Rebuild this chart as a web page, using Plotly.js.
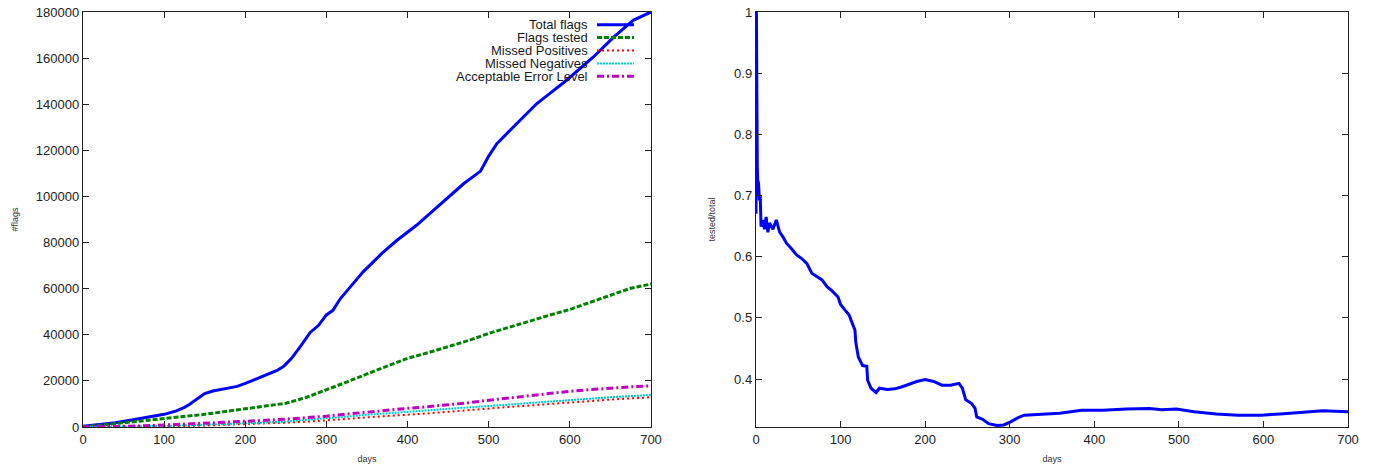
<!DOCTYPE html>
<html>
<head>
<meta charset="utf-8">
<script src="https://cdn.plot.ly/plotly-3.0.1.min.js"></script>
<style>
  html, body { margin: 0; padding: 0; background: #fff; }
  #chart { width: 1377px; height: 466px; }
</style>
</head>
<body>
<div id="chart"></div>
<script>
// ---------- Data ----------
const seriesNames = ["Total flags", "Flags tested", "Missed Positives", "Missed Negatives", "Acceptable Error Level"];

const totalDays  = [0, 20, 40, 60, 80, 100, 115, 125, 131, 140, 150, 160, 175, 190, 200, 215, 230, 240, 248, 257, 268, 280, 290, 300, 308, 317, 330, 345, 368, 387, 411, 436, 450, 469, 490, 500, 510, 539, 559, 575, 596, 629, 654, 678, 700];
const totalFlags = [300, 1000, 1800, 3000, 4300, 5500, 7000, 8500, 9800, 12000, 14500, 15600, 16600, 17600, 18900, 21000, 23000, 24700, 26500, 29800, 35000, 41000, 44000, 48600, 50600, 55600, 61000, 67200, 75200, 81000, 87500, 95400, 99500, 105500, 111000, 117500, 122900, 133000, 140200, 144600, 150400, 160500, 169100, 176400, 180000];

const days = [0, 25, 50, 75, 100, 125, 150, 175, 200, 225, 250, 275, 300, 325, 350, 375, 400, 425, 450, 475, 500, 525, 550, 575, 600, 625, 650, 675, 700];
const flagsTested     = [0, 900, 1800, 2700, 3500, 4500, 5500, 6700, 7900, 9000, 10300, 12800, 16000, 19500, 23000, 26500, 29800, 32200, 34700, 37500, 40600, 43300, 45800, 48500, 51000, 54000, 57000, 60200, 62000];
const missedPositives = [0, 30, 100, 200, 300, 450, 650, 900, 1200, 1500, 1900, 2300, 2800, 3500, 4200, 4700, 5300, 5900, 6600, 7400, 8100, 8700, 9300, 10000, 10700, 11300, 11900, 12400, 12900];
const missedNegatives = [0, 50, 150, 300, 500, 700, 950, 1200, 1500, 1900, 2400, 3000, 3700, 4500, 5300, 6000, 6600, 7300, 7900, 8500, 9100, 9800, 10400, 11000, 11700, 12300, 12900, 13400, 13900];
const acceptableError = [0, 100, 250, 500, 850, 1200, 1600, 2000, 2400, 2900, 3400, 4000, 4700, 5600, 6500, 7300, 8100, 8800, 9600, 10500, 11600, 12600, 13500, 14500, 15500, 16200, 16900, 17400, 17900];

const ratioDays = [0, 0.5, 1, 1.5, 2, 3, 4, 5, 6, 8, 10, 12, 14, 16, 20, 24, 28, 32, 36, 42, 48, 54, 60, 66, 72, 78, 84, 90, 97, 100, 105, 110, 113, 117, 118, 121, 126, 131, 132, 136, 142, 146, 155, 164, 172, 180, 190, 200, 210, 220, 230, 240, 244, 248, 255, 259, 261, 268, 275, 285, 293, 301, 310, 317, 340, 359, 385, 410, 438, 465, 480, 497, 518, 544, 570, 597, 620, 650, 670, 700];
const ratio     = [0.67, 1.0, 0.87, 0.75, 0.725, 0.72, 0.692, 0.70, 0.649, 0.66, 0.645, 0.665, 0.64, 0.655, 0.645, 0.66, 0.64, 0.632, 0.622, 0.613, 0.603, 0.597, 0.589, 0.573, 0.567, 0.562, 0.551, 0.544, 0.534, 0.522, 0.513, 0.505, 0.494, 0.48, 0.46, 0.436, 0.422, 0.421, 0.398, 0.385, 0.378, 0.385, 0.383, 0.384, 0.387, 0.391, 0.396, 0.399, 0.396, 0.39, 0.39, 0.393, 0.385, 0.366, 0.36, 0.352, 0.338, 0.334, 0.327, 0.324, 0.325, 0.330, 0.337, 0.341, 0.342, 0.344, 0.349, 0.349, 0.351, 0.352, 0.35, 0.351, 0.3466, 0.3428, 0.341, 0.341, 0.343, 0.3466, 0.348, 0.3466];

const xTicks = [0, 100, 200, 300, 400, 500, 600, 700];
const leftYTicks = [0, 20000, 40000, 60000, 80000, 100000, 120000, 140000, 160000, 180000];
const rightYTicks = [0.4, 0.5, 0.6, 0.7, 0.8, 0.9, 1];
const rightYTickText = ["0.4", "0.5", "0.6", "0.7", "0.8", "0.9", "1"];

// ---------- Styles ----------
const styles = [
  {color: "#0000ff", width: 3, dash: "solid"},
  {color: "#008000", width: 3, dash: "5px,2px"},
  {color: "#ff0000", width: 2, dash: "2px,3px"},
  {color: "#00cccc", width: 2, dash: "2px,1px"},
  {color: "#c000c0", width: 3, dash: "7px,3px,2px,3px"}
];

const leftY = [totalFlags, flagsTested, missedPositives, missedNegatives, acceptableError];
const leftX = [totalDays, days, days, days, days];

const traces = [];
for (let i = 0; i < 5; i++) {
  traces.push({
    x: leftX[i], y: leftY[i], type: "scatter", mode: "lines",
    name: seriesNames[i], xaxis: "x", yaxis: "y", showlegend: false,
    line: {color: styles[i].color, width: styles[i].width, dash: styles[i].dash}
  });
}
traces.push({
  x: ratioDays, y: ratio, type: "scatter", mode: "lines", name: "tested/total",
  xaxis: "x2", yaxis: "y2", showlegend: false,
  line: {color: "#0000ff", width: 3}
});

// ---------- Layout ----------
const L = 83, R = 29, T = 12, B = 39;
const W = 1377, H = 466;
const pw = W - L - R, ph = H - T - B;
const px = v => (v - L) / pw;
const py = v => (H - B - v) / ph;

const tickFont = {family: "Liberation Sans, Arial, sans-serif", size: 13, color: "#222"};
const titleFont = {family: "Liberation Sans, Arial, sans-serif", size: 9, color: "#333"};

function axisCommon() {
  return {
    showgrid: false, zeroline: false, showline: true, linecolor: "#222", linewidth: 1.2,
    mirror: "allticks", ticks: "inside", ticklen: 6, tickwidth: 1, tickcolor: "#222",
    tickfont: tickFont
  };
}

const layout = {
  width: W, height: H,
  margin: {l: L, r: R, t: T, b: B},
  paper_bgcolor: "#fff", plot_bgcolor: "#fff",
  xaxis: Object.assign(axisCommon(), {
    domain: [0, px(651)], range: [0, 700], tickvals: xTicks, anchor: "y",
    title: {text: "days", font: titleFont, standoff: 10}
  }),
  yaxis: Object.assign(axisCommon(), {
    domain: [0, 1], range: [0, 180000], tickvals: leftYTicks, tickformat: "d", anchor: "x",
    title: {text: "#flags", font: titleFont, standoff: 15}
  }),
  xaxis2: Object.assign(axisCommon(), {
    domain: [px(756), 1], range: [0, 700], tickvals: xTicks, anchor: "y2",
    title: {text: "days", font: titleFont, standoff: 10}
  }),
  yaxis2: Object.assign(axisCommon(), {
    domain: [0, 1], range: [0.3216, 1], tickvals: rightYTicks, ticktext: rightYTickText, anchor: "x2",
    title: {text: "tested/total", font: titleFont, standoff: 17}
  }),
  annotations: [],
  shapes: []
};

// Legend (gnuplot style: right-aligned text, sample line to the right)
const rowsY = [24.7, 37.5, 50.4, 63.5, 76.3];
for (let i = 0; i < 5; i++) {
  layout.annotations.push({
    xref: "paper", yref: "paper", x: px(590), y: py(rowsY[i]),
    xanchor: "right", yanchor: "middle", showarrow: false,
    text: seriesNames[i], font: {family: "Liberation Sans, Arial, sans-serif", size: 13, color: "#1a1a1a"}
  });
  layout.shapes.push({
    type: "line", xref: "paper", yref: "paper",
    x0: px(597), x1: px(634), y0: py(rowsY[i]), y1: py(rowsY[i]),
    line: {color: styles[i].color, width: styles[i].width, dash: styles[i].dash}
  });
}

Plotly.newPlot("chart", traces, layout, {staticPlot: true, displayModeBar: false});
</script>
</body>
</html>
